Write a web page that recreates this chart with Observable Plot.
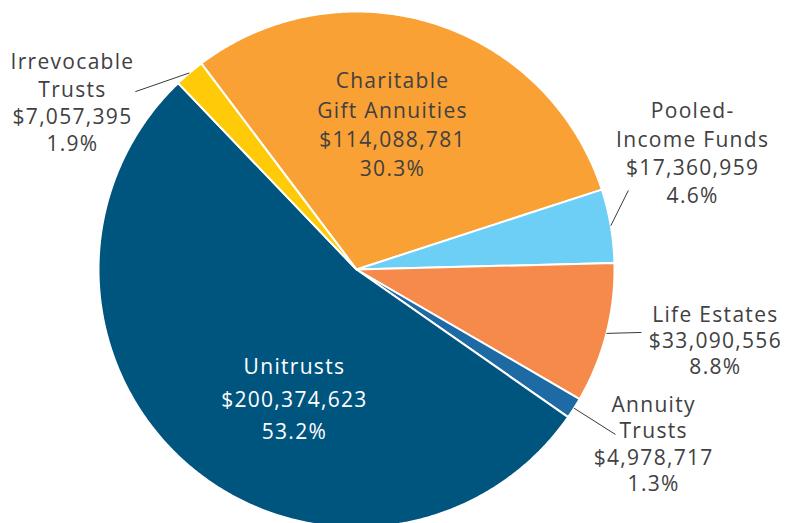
<!DOCTYPE html>
<html>
<head>
<meta charset="utf-8">
<script src="https://cdn.jsdelivr.net/npm/d3@7"></script>
<script src="https://cdn.jsdelivr.net/npm/@observablehq/plot@0.6"></script>
<style>
  html, body { margin: 0; padding: 0; background: #fff; overflow: hidden; }
  svg { display: block; }
</style>
</head>
<body>
<div id="chart"></div>
<script>
// ---- data ----
const categories = ["Charitable\nGift Annuities", "Pooled-\nIncome Funds", "Life Estates", "Annuity\nTrusts", "Unitrusts", "Irrevocable\nTrusts"];
const amounts = [114088781, 17360959, 33090556, 4978717, 200374623, 7057395];
const sliceColors = ["#F9A134", "#6DCFF6", "#F58A4B", "#1D6AA5", "#00557F", "#FFCB08"];

// ---- layout (style, not data) ----
const startDeg = -37;            // start angle of first slice, clockwise from top
const R = 258;                   // pie radius in px
const fontSize = 21;
const labelAngle  = [14.0, 71.0, 101.4, 120.6, 205.8, 300.3];
const labelRadius = [0.577, 1.378, 1.419, 1.338, 0.553, 1.275];
const labelGap    = [29.3, 28.3, 26.2, 26.4, 33, 27.3];
const labelColor  = ["#414042", "#414042", "#414042", "#414042", "#ffffff", "#414042"];
const leaderEnd   = [null, [73.8, 1.097], [102.46, 1.131], [122.5, 1.19], null, [308.8, 1.10]];

const total = d3.sum(amounts);
const rad = Math.PI / 180;
const polar = (deg, r) => ({x: r * Math.sin(deg * rad), y: r * Math.cos(deg * rad)});

const arcs = d3.pie().sort(null)
  .startAngle(startDeg * rad).endAngle((startDeg + 360) * rad)(amounts);

// slice polygons
const slicePts = [];
arcs.forEach((a, i) => {
  const name = categories[i];
  slicePts.push({name, x: 0, y: 0});
  const a0 = a.startAngle / rad, a1 = a.endAngle / rad;
  const n = Math.max(4, Math.ceil((a1 - a0) / 0.5));
  for (let k = 0; k <= n; k++) {
    const p = polar(a0 + (a1 - a0) * k / n, R);
    slicePts.push({name, x: p.x, y: p.y});
  }
  slicePts.push({name, x: 0, y: 0});
});

// labels (one multi-line text per slice)
const fmt = d3.format(",");
const pfmt = d3.format(".1%");
const labelMarks = arcs.map((a, i) => {
  const text = [categories[i], "$" + fmt(amounts[i]), pfmt(amounts[i] / total)].join("\n");
  const c = polar(labelAngle[i], labelRadius[i] * R);
  return Plot.text([{x: c.x, y: c.y, text}], {
    x: "x", y: "y", text: "text",
    fill: labelColor[i], fontSize,
    lineHeight: labelGap[i] / fontSize,
    textAnchor: "middle", lineAnchor: "middle", dy: -2
  });
});

// leader lines
const leaders = [];
arcs.forEach((a, i) => {
  if (!leaderEnd[i]) return;
  const mid = (a.startAngle + a.endAngle) / 2 / rad;
  const s = polar(mid, R);
  const e = polar(leaderEnd[i][0], leaderEnd[i][1] * R);
  leaders.push({x1: s.x, y1: s.y, x2: e.x, y2: e.y});
});

const chart = Plot.plot({
  width: 785,
  height: 523,
  margin: 0,
  x: {domain: [-356, 429], axis: null},
  y: {domain: [-254, 269], axis: null},
  color: {domain: categories, range: sliceColors},
  style: {fontFamily: "'Open Sans', sans-serif", background: "#fff", letterSpacing: "1.3px"},
  marks: [
    Plot.line(slicePts, {x: "x", y: "y", z: "name", fill: "name", stroke: "white", strokeWidth: 2, strokeLinejoin: "round"}),
    Plot.link(leaders, {x1: "x1", y1: "y1", x2: "x2", y2: "y2", stroke: "#3a3a3a", strokeWidth: 1}),
    ...labelMarks
  ]
});
document.getElementById("chart").appendChild(chart);
</script>
</body>
</html>
